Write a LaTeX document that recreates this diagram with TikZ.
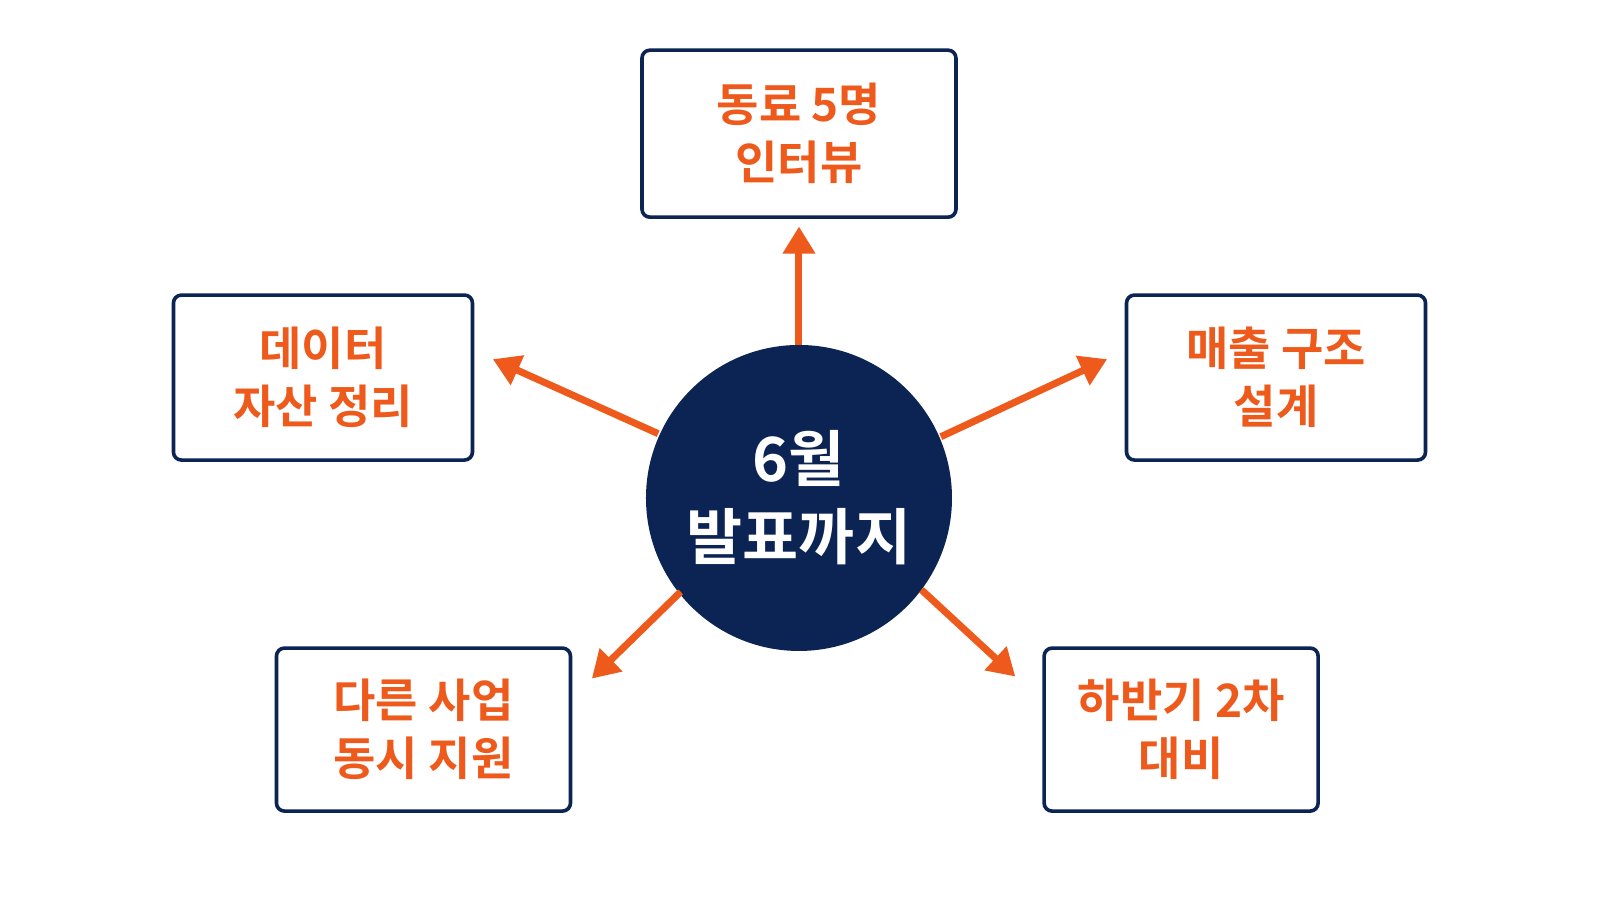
\documentclass[tikz,border=0pt]{standalone}
\usepackage{fontspec}
\newfontfamily\kr{Noto Sans CJK KR Bold}
\usetikzlibrary{arrows.meta}
\definecolor{navy}{HTML}{0B2454}
\definecolor{org}{HTML}{EE5A1C}
\begin{document}
\begin{tikzpicture}[x=1.0204pt,y=-1.0204pt,
  box/.style={draw=navy,line width=3.6pt,rounded corners=8pt,fill=white,text=org,font=\kr\fontsize{46}{58}\selectfont,align=center,inner sep=0pt},
  arr/.style={draw=org,line width=7pt,-{Triangle[length=27pt,width=31pt]}}]
\useasboundingbox (0,0) rectangle (1568,882);
\fill[white] (0,0) rectangle (1568,882);
\node[circle,fill=navy,minimum size=306pt,inner sep=0pt,text=white,font=\kr\fontsize{61}{78}\selectfont,align=center] (c) at (783,488) {6월\\발표까지};
\node[box,minimum width=314pt,minimum height=167pt] (t) at (783,131) {동료 5명\\인터뷰};
\node[box,minimum width=299pt,minimum height=165pt] (l) at (316.5,370) {데이터\\자산 정리};
\node[box,minimum width=299pt,minimum height=165pt] (r) at (1250.5,370) {매출 구조\\설계};
\node[box,minimum width=294pt,minimum height=163pt] (bl) at (415,715) {다른 사업\\동시 지원};
\node[box,minimum width=274pt,minimum height=163pt] (br) at (1157.5,715) {하반기 2차\\대비};
\coordinate (t1) at (783,338); \coordinate (t2) at (783,222);
\coordinate (l1) at (645,425); \coordinate (l2) at (483,352);
\coordinate (r1) at (922,428); \coordinate (r2) at (1085,352);
\coordinate (bl1) at (667,580); \coordinate (bl2) at (580,665);
\coordinate (br1) at (903,578); \coordinate (br2) at (995,663);
\draw[arr] (t1) -- (t2);
\draw[arr] (l1) -- (l2);
\draw[arr] (r1) -- (r2);
\draw[arr] (bl1) -- (bl2);
\draw[arr] (br1) -- (br2);
\end{tikzpicture}
\end{document}
